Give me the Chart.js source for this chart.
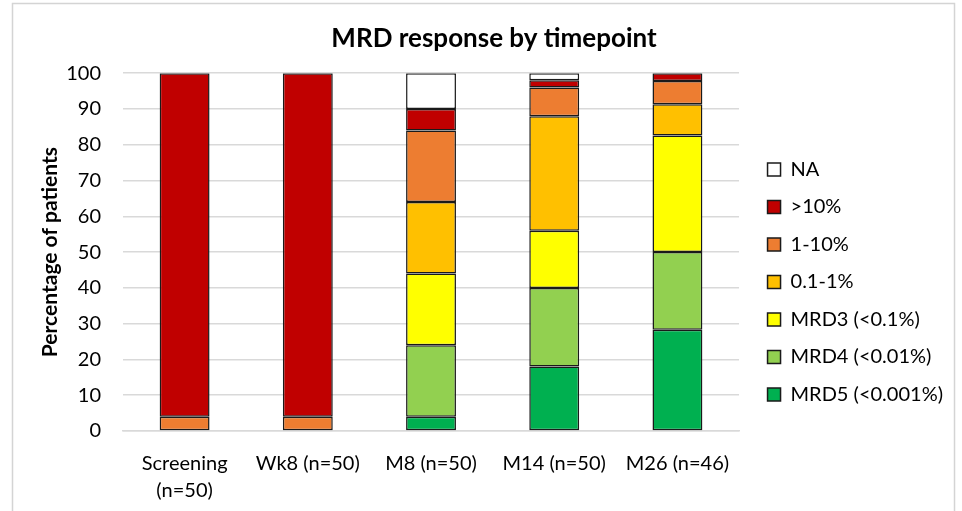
<!DOCTYPE html>
<html>
<head>
<meta charset="utf-8">
<script src="https://cdn.jsdelivr.net/npm/chart.js@4/dist/chart.umd.min.js"></script>
<style>
  html, body { margin: 0; padding: 0; background: #ffffff; }
  #wrap { position: relative; width: 962px; height: 511px; }
</style>
</head>
<body>
<div id="wrap"><canvas id="c" width="962" height="511"></canvas></div>
<script>
// Timepoints on the x axis (first one wraps onto two lines)
const timepoints = [["Screening", "(n=50)"], "Wk8 (n=50)", "M8 (n=50)", "M14 (n=50)", "M26 (n=46)"];

// Share of patients (%) in each MRD category per timepoint
const mrd5   = [0, 0, 4, 18, 28.3];
const mrd4   = [0, 0, 20, 22, 21.7];
const mrd3   = [0, 0, 20, 16, 32.6];
const low    = [0, 0, 20, 32, 8.7];   // 0.1-1%
const mid    = [4, 4, 20, 8, 6.5];    // 1-10%
const high   = [96, 96, 6, 2, 2.2];   // >10%
const na     = [0, 0, 10, 2, 0];

const yTicks = [0, 10, 20, 30, 40, 50, 60, 70, 80, 90, 100];

const font = "Lato, 'Open Sans', sans-serif";

function ds(label, data, color) {
  return {
    label, data,
    backgroundColor: color,
    borderColor: "#1a1a1a",
    borderWidth: 1.5,
    borderSkipped: false,
    barPercentage: 0.405,
    categoryPercentage: 1.0
  };
}

// Light frame around the whole figure
const framePlugin = {
  id: "frame",
  beforeDraw(chart) {
    const ctx = chart.ctx;
    ctx.save();
    ctx.fillStyle = "#ffffff";
    ctx.fillRect(0, 0, chart.width, chart.height);
    ctx.strokeStyle = "#d4d4d4";
    ctx.lineWidth = 1.5;
    ctx.strokeRect(12.5, 3.5, 942, 520);
    ctx.restore();
  }
};

// Widen the legend box a little and nudge its items right, leaving a gap to the plot
const legendGap = {
  id: "legendGap",
  beforeUpdate(chart) {
    const lg = chart.legend;
    if (!lg || lg._gapWrapped) return;
    lg._gapWrapped = true;
    const fit = lg.fit;
    lg.fit = function () { fit.call(this); this.width += 8; };
    const draw = lg.draw;
    lg.draw = function () {
      const ctx = this.ctx;
      ctx.save();
      ctx.translate(11, 0);
      draw.call(this);
      ctx.restore();
    };
  }
};

new Chart(document.getElementById("c"), {
  type: "bar",
  data: {
    labels: timepoints,
    datasets: [
      ds("MRD5 (<0.001%)", mrd5, "#00b050"),
      ds("MRD4 (<0.01%)", mrd4, "#92d050"),
      ds("MRD3 (<0.1%)", mrd3, "#ffff00"),
      ds("0.1-1%", low, "#ffc000"),
      ds("1-10%", mid, "#ed7d31"),
      ds(">10%", high, "#c00000"),
      ds("NA", na, "#ffffff")
    ]
  },
  options: {
    responsive: false,
    animation: false,
    devicePixelRatio: 1,
    layout: { padding: { left: 38, right: 12, top: 21, bottom: 0 } },
    plugins: {
      title: {
        display: true,
        text: "MRD response by timepoint",
        color: "#000",
        font: { family: font, size: 26, weight: "bold" },
        padding: { top: 2, bottom: 19 }
      },
      legend: {
        position: "right",
        reverse: true,
        title: { display: true, text: " ", font: { family: font, size: 20 }, padding: 4 },
        labels: {
          color: "#000",
          font: { family: font, size: 20 },
          boxWidth: 13,
          boxHeight: 13,
          padding: 17.5,
          useBorderRadius: false
        }
      },
      tooltip: { enabled: false }
    },
    scales: {
      x: {
        stacked: true,
        grid: { display: false, drawTicks: false },
        border: { display: true, color: "#d9d9d9", width: 1.5 },
        ticks: { color: "#000", font: { family: font, size: 20, lineHeight: 1.35 }, padding: 19, maxRotation: 0 },
        afterFit(scale) { scale.height = 80; }
      },
      y: {
        stacked: true,
        min: 0,
        max: 100,
        afterBuildTicks(axis) { axis.ticks = yTicks.map(v => ({ value: v })); },
        grid: { color: "#d9d9d9", lineWidth: 1.5, drawTicks: false },
        border: { display: false },
        ticks: { color: "#000", font: { family: font, size: 20 }, padding: 22 },
        title: {
          display: true,
          text: "Percentage of patients",
          color: "#000",
          font: { family: font, size: 21, weight: "bold" },
          padding: { top: 0, bottom: 0 }
        },
        afterFit(scale) { scale.width = 85; }
      }
    }
  },
  plugins: [framePlugin, legendGap]
});
</script>
</body>
</html>
